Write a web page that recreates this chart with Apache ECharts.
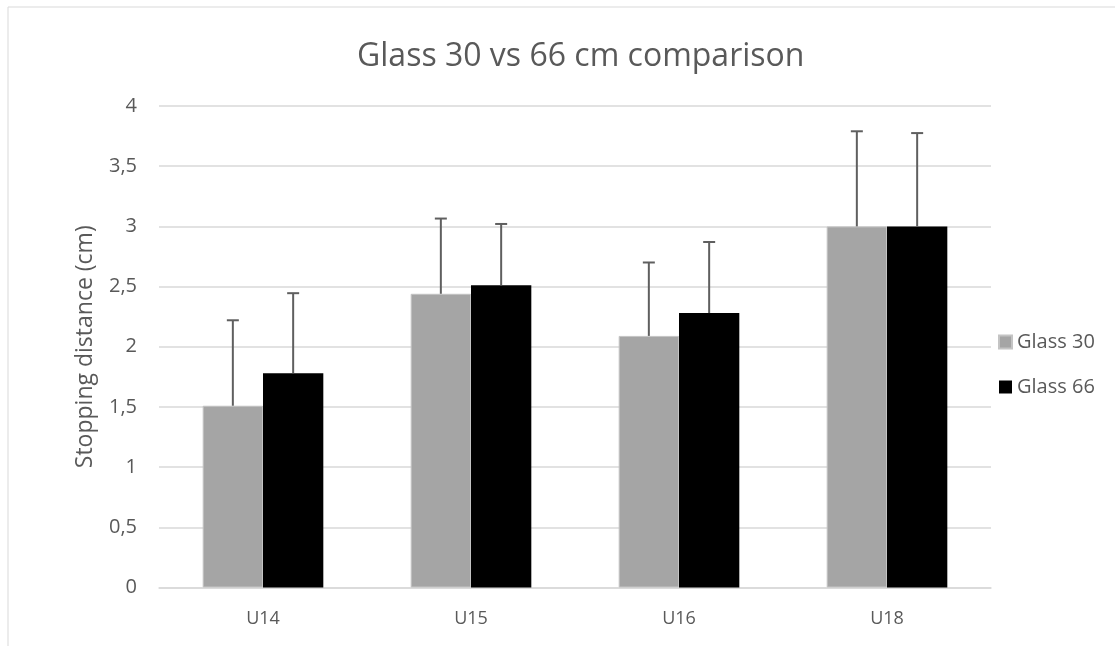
<!DOCTYPE html>
<html>
<head>
<meta charset="utf-8">
<script src="https://cdn.jsdelivr.net/npm/echarts@6/dist/echarts.min.js"></script>
<style>
html,body{margin:0;padding:0;background:#fff;}
#chart{width:1115px;height:646px;}
</style>
</head>
<body>
<div id="chart"></div>
<script>
const categories = ['U14', 'U15', 'U16', 'U18'];
const seriesNames = ['Glass 30', 'Glass 66'];
const glass30 = [1.51, 2.44, 2.09, 3.0];
const glass66 = [1.78, 2.51, 2.28, 3.0];
const err30 = [0.71, 0.625, 0.61, 0.79];
const err66 = [0.665, 0.51, 0.59, 0.775];
const yTicks = { min: 0, max: 4, interval: 0.5 };

const FONT = '"Open Sans", "Liberation Sans", sans-serif';
const TXT = '#595959';
const GAP = 0.42;

function errorSeries(name, values, errs, idx) {
  return {
    type: 'custom',
    name: name,
    z: 10,
    silent: true,
    data: values.map((v, i) => [i, v, v + errs[i]]),
    renderItem: function (params, api) {
      const catW = api.size([1, 0])[0];
      const barW = catW * (1 - GAP) / 2;
      const off = (idx === 0 ? -0.5 : 0.5) * barW;
      const base = api.coord([api.value(0), api.value(1)]);
      const top = api.coord([api.value(0), api.value(2)]);
      const x = base[0] + off;
      const cap = 6;
      const style = { stroke: '#5f5f5f', lineWidth: 2, fill: null };
      return {
        type: 'group',
        children: [
          { type: 'line', shape: { x1: x, y1: base[1], x2: x, y2: top[1] }, style: style },
          { type: 'line', shape: { x1: x - cap, y1: top[1], x2: x + cap, y2: top[1] }, style: style }
        ]
      };
    }
  };
}

const chart = echarts.init(document.getElementById('chart'));
chart.setOption({
  backgroundColor: '#fff',
  animation: false,
  title: {
    text: 'Glass 30 vs 66 cm comparison',
    left: 352,
    top: 36,
    textStyle: { fontFamily: FONT, fontSize: 32, fontWeight: 'normal', color: TXT }
  },
  graphic: [{
    type: 'rect',
    shape: { x: 8, y: 7, width: 1200, height: 700 },
    style: { fill: null, stroke: '#d9d9d9', lineWidth: 1 },
    silent: true
  }],
  legend: {
    orient: 'vertical',
    left: 993,
    top: 326,
    itemWidth: 13,
    itemHeight: 13,
    itemGap: 23,
    icon: 'rect',
    data: seriesNames,
    textStyle: { fontFamily: FONT, fontSize: 20, color: TXT, lineHeight: 22 }
  },
  grid: { left: 159, right: 124, top: 106, bottom: 58.5, containLabel: false },
  xAxis: {
    type: 'category',
    data: categories,
    axisLine: { show: true, lineStyle: { color: '#d9d9d9', width: 1.5 } },
    axisTick: { show: false },
    axisLabel: { fontFamily: FONT, fontSize: 18, color: TXT, margin: 22 }
  },
  yAxis: {
    type: 'value',
    min: yTicks.min,
    max: yTicks.max,
    interval: yTicks.interval,
    name: 'Stopping distance (cm)',
    nameLocation: 'middle',
    nameGap: 62,
    nameTextStyle: { fontFamily: FONT, fontSize: 23, color: TXT },
    axisLine: { show: false },
    axisTick: { show: false },
    splitLine: { lineStyle: { color: '#d9d9d9', width: 1.5 } },
    axisLabel: {
      fontFamily: FONT, fontSize: 20, color: TXT, margin: 22,
      formatter: v => String(v).replace('.', ',')
    }
  },
  series: [
    {
      name: seriesNames[0], type: 'bar', data: glass30,
      barGap: '0%', barCategoryGap: (GAP * 100) + '%',
      itemStyle: { color: '#a5a5a5', borderColor: '#c4c4c4', borderWidth: 1 }
    },
    {
      name: seriesNames[1], type: 'bar', data: glass66,
      barGap: '0%', barCategoryGap: (GAP * 100) + '%',
      itemStyle: { color: '#000000' }
    },
    errorSeries(seriesNames[0] + ' err', glass30, err30, 0),
    errorSeries(seriesNames[1] + ' err', glass66, err66, 1)
  ]
});
</script>
</body>
</html>
